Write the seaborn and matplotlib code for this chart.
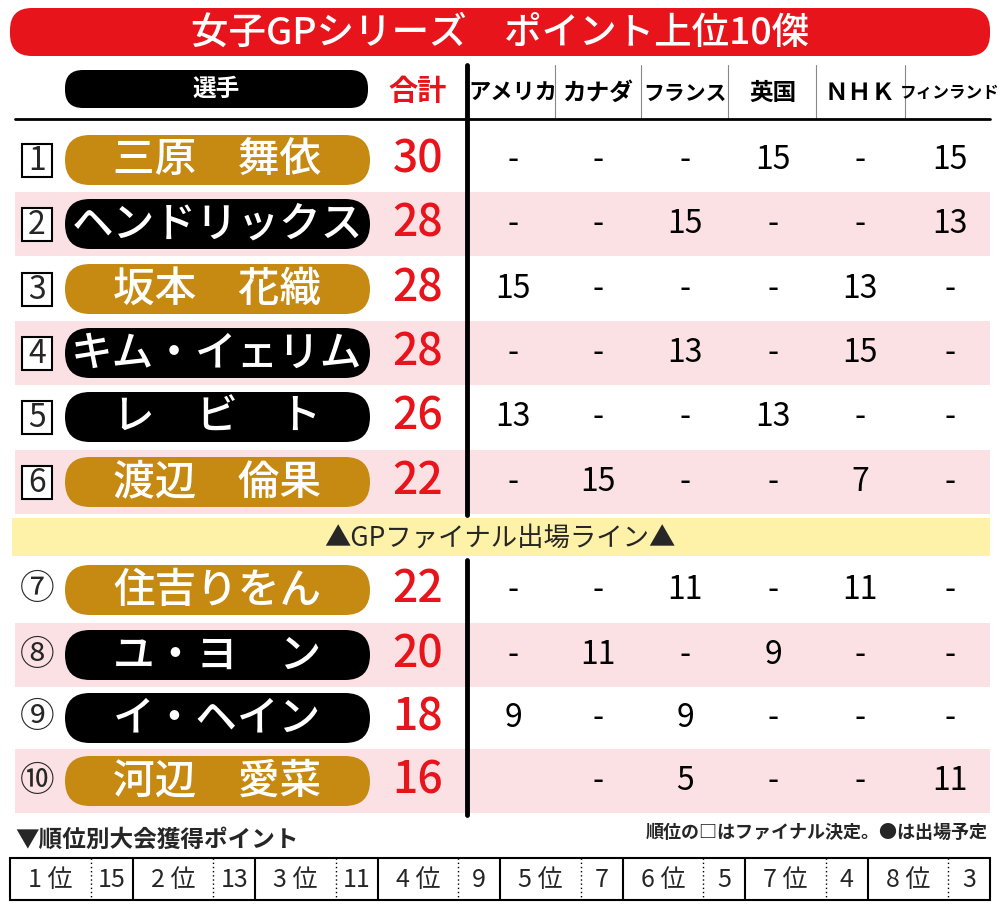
import matplotlib
matplotlib.use("Agg")
import matplotlib.pyplot as plt
import seaborn as sns
from matplotlib.patches import FancyBboxPatch, Rectangle

sns.set_theme(style="white")
plt.rcParams['font.family'] = ['Noto Sans CJK JP', 'DejaVu Sans']

title = "女子GPシリーズ　ポイント上位10傑"
events = ["アメリカ", "カナダ", "フランス", "英国", "ＮＨＫ", "フィンランド"]
names = ["三原　舞依", "ヘンドリックス", "坂本　花織", "キム・イェリム", "レ　ビ　ト",
         "渡辺　倫果", "住吉りをん", "ユ・ヨ　ン", "イ・ヘイン", "河辺　愛菜"]
japanese = [True, False, True, False, False, True, True, False, False, True]
totals = [30, 28, 28, 28, 26, 22, 22, 20, 18, 16]
points = [
    ["-", "-", "-", "15", "-", "15"],
    ["-", "-", "15", "-", "-", "13"],
    ["15", "-", "-", "-", "13", "-"],
    ["-", "-", "13", "-", "15", "-"],
    ["13", "-", "-", "13", "-", "-"],
    ["-", "15", "-", "-", "7", "-"],
    ["-", "-", "11", "-", "11", "-"],
    ["-", "11", "-", "9", "-", "-"],
    ["9", "-", "9", "-", "-", "-"],
    ["", "-", "5", "-", "-", "11"],
]
rank_marks = ["1", "2", "3", "4", "5", "6", "⑦", "⑧", "⑨", "⑩"]
rank_labels = ["1 位", "2 位", "3 位", "4 位", "5 位", "6 位", "7 位", "8 位"]
rank_points = [15, 13, 11, 9, 7, 5, 4, 3]

GOLD = "#c68a12"
RED = "#e8141c"
PINK = "#fbe1e4"

fig = plt.figure(figsize=(10, 9.16), dpi=100)
ax = fig.add_axes([0, 0, 1, 1])
ax.set_xlim(0, 1000)
ax.set_ylim(916, 0)
ax.axis("off")

# title
ax.add_patch(FancyBboxPatch((10, 8), 980, 48, boxstyle="round,pad=0,rounding_size=22",
                            fc=RED, ec="none"))
ax.text(500, 33, title, color="white", fontsize=27, fontweight="medium", ha="center", va="center")

# header
ax.add_patch(FancyBboxPatch((65, 70), 303, 38, boxstyle="round,pad=0,rounding_size=18",
                            fc="black", ec="none"))
ax.text(216, 89, "選手", color="white", fontsize=17, fontweight="bold", ha="center", va="center")
ax.text(418, 91, "合計", color=RED, fontsize=21, fontweight="bold", ha="center", va="center")
col_x = [513, 598, 685, 773, 860, 950]
sizes = [16, 17, 15, 17, 17, 12]
for x, e, s in zip(col_x, events, sizes):
    ax.text(x, 93, e, fontsize=s, fontweight="bold", ha="center", va="center", color="black")
for x in [555, 641, 728, 816, 905]:
    ax.plot([x, x], [65, 118], color="#888888", lw=0.8, zorder=0.5)
ax.plot([15, 990], [119, 119], color="black", lw=2)

row_y = [160, 224, 289, 353, 417, 482, 590, 655, 718, 781]
for i, y in enumerate(row_y):
    if i % 2 == 1:
        ax.add_patch(Rectangle((15, y - 32), 975, 64, fc=PINK, ec="none", zorder=0))
    if i < 6:
        ax.add_patch(Rectangle((22, y - 16), 30, 33, fc="white", ec="black", lw=1.5, zorder=2))
        ax.text(37, y + 1, rank_marks[i], fontsize=23, ha="center", va="center", zorder=3)
    else:
        ax.text(37, y, rank_marks[i], fontsize=25, ha="center", va="center", zorder=3)
    c = GOLD if japanese[i] else "black"
    ax.add_patch(FancyBboxPatch((65, y - 25), 305, 50, boxstyle="round,pad=0,rounding_size=25",
                                fc=c, ec="none", zorder=2))
    ax.text(217, y, names[i], color="white", fontsize=30, fontweight="medium",
            ha="center", va="center", zorder=3)
    ax.text(418, y, str(totals[i]), color=RED, fontsize=32, fontweight="medium",
            ha="center", va="center", zorder=3)
    for x, p in zip(col_x, points[i]):
        ax.text(x, y, p, fontsize=23, ha="center", va="center", zorder=3, color="black")

ax.plot([467, 467], [65, 515], color="black", lw=3.5, zorder=4)
ax.plot([467, 467], [560, 815], color="black", lw=3.5, zorder=4)

# banner
ax.add_patch(Rectangle((12, 518), 978, 38, fc="#fdf2a8", ec="none", zorder=3))
ax.text(500, 538, "▲GPファイナル出場ライン▲", fontsize=19, ha="center", va="center", zorder=4)

# bottom
ax.text(15, 840, "▼順位別大会獲得ポイント", fontsize=17, fontweight="bold", ha="left", va="center")
ax.text(988, 832, "順位の□はファイナル決定。●は出場予定", fontsize=13, fontweight="bold",
        ha="right", va="center")
x0, w = 10, 980 / 8
ax.add_patch(Rectangle((x0, 858), 980, 42, fc="white", ec="black", lw=1.5))
for k, (lab, pt) in enumerate(zip(rank_labels, rank_points)):
    left = x0 + k * w
    if k > 0:
        ax.plot([left, left], [858, 900], color="black", lw=1.5)
    mid = left + w * 0.66
    ax.plot([mid, mid], [858, 900], color="black", lw=1, ls=(0, (1, 2)))
    ax.text(left + w * 0.33, 880, lab, fontsize=18, ha="center", va="center")
    ax.text(left + w * 0.83, 880, str(pt), fontsize=18, ha="center", va="center")

fig.savefig("out.png", dpi=100, facecolor="white")
